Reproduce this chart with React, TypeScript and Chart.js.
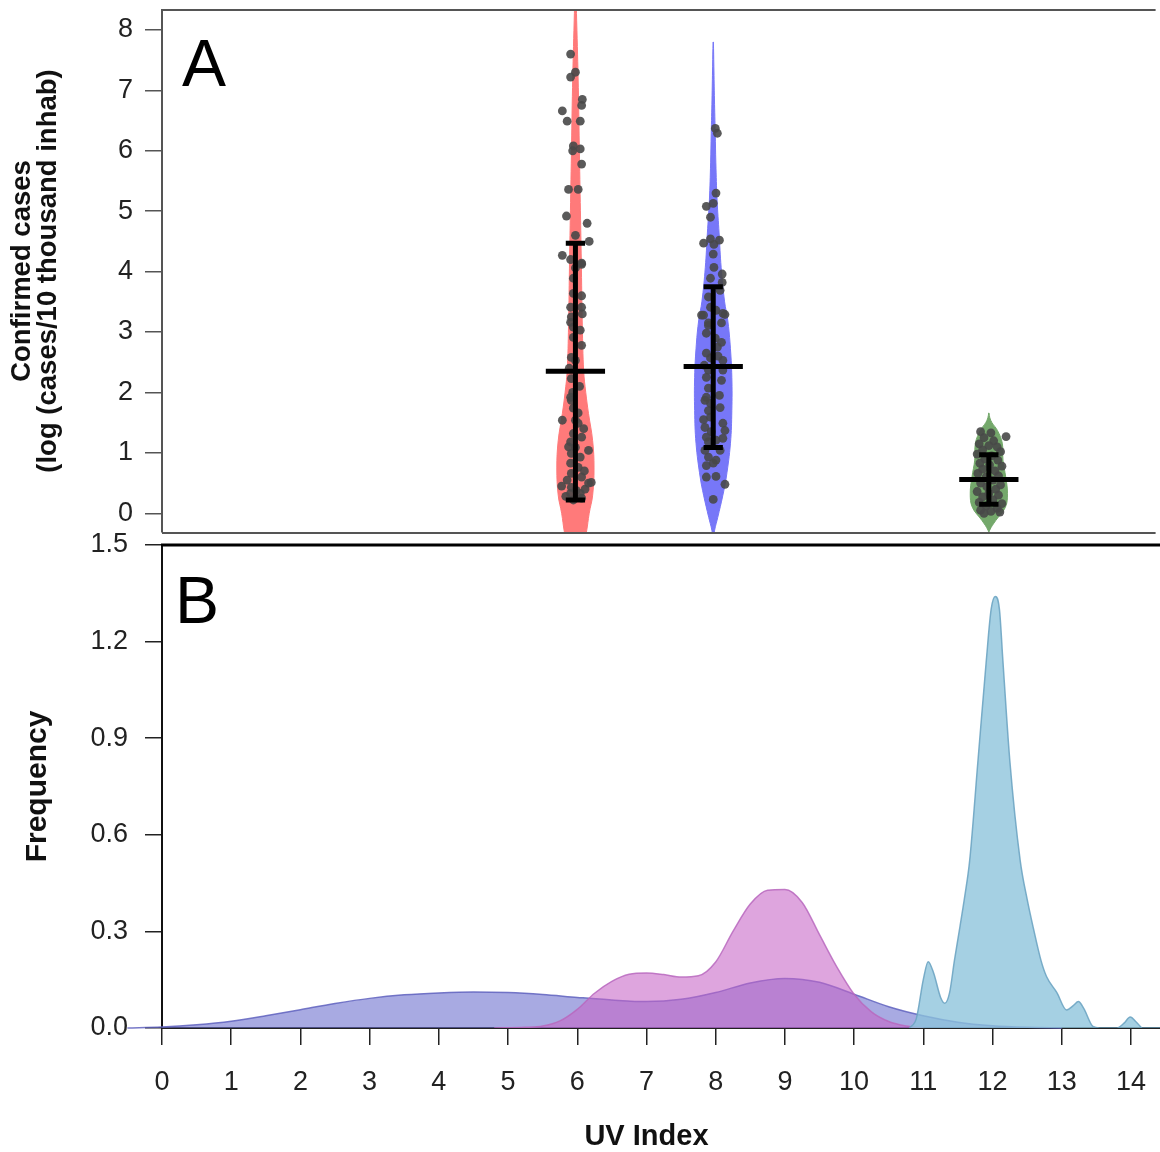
import React, { useEffect, useRef } from 'react';
import { Chart, registerables } from 'chart.js';

Chart.register(...registerables);

const FONT = '"Liberation Sans", Arial, Helvetica, sans-serif';

// ---------------- Shared axis ----------------
const xTicksB = [0, 1, 2, 3, 4, 5, 6, 7, 8, 9, 10, 11, 12, 13, 14];
const yTicksA = [0, 1, 2, 3, 4, 5, 6, 7, 8];
const yTicksB = [0, 0.3, 0.6, 0.9, 1.2, 1.5];

// ---------------- Panel A : violins ----------------
const groupCenters = [6, 8, 12];

const redViolinY = [-0.5, -0.31, 0.0, 0.3, 0.75, 1.2, 1.65, 2.0, 2.35, 3.1, 4.2, 4.85, 5.95, 7.05, 8.15, 8.6];
const redViolinW = [0.12, 0.16, 0.2, 0.25, 0.27, 0.25, 0.19, 0.15, 0.12, 0.1, 0.085, 0.075, 0.058, 0.042, 0.018, 0.005];

const blueViolinY = [-0.45, -0.28, -0.07, 0.3, 0.6, 1.16, 1.7, 2.25, 2.8, 3.2, 3.5, 4.07, 4.64, 5.18, 5.8, 6.29, 6.84, 7.4, 7.8];
const blueViolinW = [0.0, 0.02, 0.065, 0.14, 0.19, 0.25, 0.27, 0.27, 0.245, 0.21, 0.165, 0.115, 0.085, 0.056, 0.038, 0.029, 0.018, 0.009, 0.002];

const greenViolinY = [-0.36, -0.28, -0.12, 0.1, 0.33, 0.6, 0.88, 1.16, 1.37, 1.5, 1.58, 1.66];
const greenViolinW = [0.0, 0.012, 0.1, 0.24, 0.27, 0.245, 0.205, 0.195, 0.125, 0.045, 0.014, 0.002];

// jittered observations (offset from group centre, value)
const redPtsDx = [-0.07, 0, -0.07, 0.1, 0.09, -0.19, -0.12, 0.07, -0.03, -0.04, 0.07, 0.09, -0.1, 0.04, -0.13, 0.17, 0, 0.2, -0.19, -0.07, 0.09, 0, 0.09, -0.03, -0.03, 0.09, -0.07, 0.09, -0.06, -0.07, -0.03, 0.07, -0.03, 0.09, -0.06, 0, -0.06, -0.07, -0.06, -0.03, 0.04, -0.19, 0, 0.04, -0.03, 0.09, -0.07, 0, 0.19, -0.06, 0.07, -0.07, 0.04, -0.06, 0.09, 0.19, 0.23, -0.06, 0.01, -0.07, 0.07, 0.09, -0.03, 0.12, -0.1, 0.13, -0.12, 0.14, -0.14, 0.06, -0.09, 0.1, -0.04, -0.2];
const redPtsY = [7.6, 7.3, 7.22, 6.85, 6.75, 6.66, 6.49, 6.49, 6.08, 6.0, 6.03, 5.78, 5.36, 5.36, 4.92, 4.8, 4.6, 4.5, 4.27, 4.2, 4.14, 4.06, 4.12, 3.89, 3.64, 3.6, 3.41, 3.41, 3.25, 3.16, 3.08, 3.03, 2.91, 2.78, 2.58, 2.53, 2.23, 1.92, 1.87, 1.74, 1.66, 1.54, 1.54, 1.49, 1.32, 1.26, 1.18, 1.09, 1.04, 0.99, 0.93, 0.83, 0.76, 0.66, 0.6, 0.5, 0.51, 0.43, 0.38, 0.33, 0.33, 0.25, 0.22, 1.4, 1.1, 0.7, 0.55, 0.4, 0.28, 2.1, 2.4, 3.3, 2.0, 0.45];

const bluePtsDx = [0.03, 0.06, 0.04, -0.1, 0, -0.04, -0.14, -0.04, 0.01, 0.09, 0, 0.01, -0.04, 0.13, 0.13, -0.07, 0.1, -0.04, -0.14, 0.04, 0.14, -0.07, -0.17, -0.07, 0.17, 0.12, -0.1, 0.12, -0.1, -0.04, 0.14, -0.07, 0.14, -0.1, 0.12, -0.07, -0.1, -0.12, -0.04, -0.07, -0.04, 0.14, -0.12, 0.17, -0.1, 0.14, -0.07, 0.04, -0.12, 0.1, -0.07, 0.04, 0, -0.1, -0.1, 0.04, 0.17, 0, 0.06, -0.13, 0.09, 0.03, -0.14, 0.1, -0.03, 0.07];
const bluePtsY = [6.37, 6.29, 5.3, 5.08, 5.13, 4.9, 4.47, 4.54, 4.45, 4.52, 4.29, 4.07, 3.89, 3.96, 3.82, 3.58, 3.69, 3.41, 3.28, 3.36, 3.31, 3.11, 3.28, 3.15, 3.29, 3.15, 2.98, 2.83, 2.65, 2.57, 2.53, 2.37, 2.37, 2.25, 2.2, 2.07, 1.92, 1.87, 1.82, 1.7, 1.59, 1.49, 1.42, 1.37, 1.26, 1.24, 1.18, 1.21, 1.04, 1.04, 0.93, 0.88, 0.83, 0.79, 0.6, 0.61, 0.48, 0.23, 2.75, 2.45, 1.95, 2.9, 1.55, 1.75, 1.35, 2.6];

const greenPtsDx = [-0.12, 0.03, 0.25, -0.07, 0.07, -0.14, 0, 0.12, -0.09, 0.17, -0.17, 0.04, -0.06, 0.13, -0.13, 0.01, 0.19, -0.09, 0.09, -0.16, 0.14, -0.04, 0.06, -0.12, 0.17, -0.03, 0.1, -0.17, 0, 0.14, -0.09, 0.06, -0.14, 0.19, -0.04, 0.12, -0.12, 0.03, 0.16, -0.07];
const greenPtsY = [1.35, 1.33, 1.27, 1.25, 1.2, 1.15, 1.12, 1.1, 1.05, 1.02, 0.98, 0.95, 0.9, 0.88, 0.83, 0.8, 0.78, 0.73, 0.7, 0.66, 0.62, 0.6, 0.55, 0.5, 0.47, 0.44, 0.4, 0.36, 0.33, 0.3, 0.27, 0.22, 0.18, 0.16, 0.12, 0.08, 0.05, 0.03, 0.02, 0.0];

// summary statistics per group (red, blue, green)
const meanVals = [2.35, 2.43, 0.56];
const lowerVals = [0.22, 1.09, 0.15];
const upperVals = [4.47, 3.75, 0.97];

// ---------------- Panel B : densities ----------------
const blueDensX = [-0.5, 0, 0.5, 1, 1.5, 2, 2.5, 3, 3.5, 4, 4.5, 5, 5.5, 6, 6.5, 7, 7.5, 8, 8.5, 9, 9.5, 10, 10.5, 11, 11.5, 12, 12.5, 13];
const blueDensY = [0, 0.003, 0.01, 0.021, 0.038, 0.057, 0.076, 0.092, 0.103, 0.109, 0.112, 0.11, 0.104, 0.095, 0.087, 0.082, 0.089, 0.11, 0.14, 0.154, 0.142, 0.105, 0.066, 0.038, 0.018, 0.007, 0.002, 0];

const pinkDensX = [4.8, 5.25, 5.5, 5.75, 6.0, 6.25, 6.5, 6.75, 7.0, 7.25, 7.5, 7.75, 8.0, 8.25, 8.5, 8.75, 9.0, 9.25, 9.5, 9.75, 10.0, 10.25, 10.5, 10.75, 11.0];
const pinkDensY = [0, 0.002, 0.006, 0.022, 0.058, 0.108, 0.145, 0.167, 0.171, 0.166, 0.158, 0.162, 0.205, 0.3, 0.385, 0.428, 0.43, 0.39, 0.29, 0.19, 0.105, 0.05, 0.02, 0.006, 0];

const skyDensX = [10.8, 10.9, 11.0, 11.07, 11.15, 11.25, 11.31, 11.38, 11.45, 11.53, 11.6, 11.67, 11.79, 11.91, 11.98, 12.04, 12.1, 12.15, 12.25, 12.4, 12.5, 12.59, 12.7, 12.78, 12.93, 13.07, 13.17, 13.24, 13.32, 13.45, 13.55, 13.8, 13.9, 13.99, 14.08, 14.17, 14.42];
const skyDensY = [0, 0.03, 0.15, 0.206, 0.17, 0.095, 0.077, 0.11, 0.21, 0.315, 0.41, 0.52, 0.83, 1.14, 1.3, 1.34, 1.3, 1.14, 0.83, 0.52, 0.4, 0.31, 0.21, 0.16, 0.11, 0.056, 0.07, 0.082, 0.06, 0.005, 0, 0, 0.015, 0.034, 0.018, 0, 0];

// ---------------- helpers ----------------
const X_MAX = 14.42;
const CAP_W = 0.14;
const MEAN_W = 0.43;

const zip = (xs: number[], ys: number[]) => xs.map((x, i) => ({ x, y: ys[i] }));
const violinPath = (c: number, ys: number[], ws: number[]) => [
  ...ys.map((y, i) => ({ x: c + ws[i], y })),
  ...ys.map((y, i) => ({ x: c - ws[i], y })).reverse(),
];
const jitter = (c: number, dx: number[], ys: number[]) => dx.map((d, i) => ({ x: c + d, y: ys[i] }));
const errorPath = (c: number, lo: number, hi: number, mean: number) => [
  { x: c, y: lo }, { x: c, y: hi }, { x: c, y: null },
  { x: c - CAP_W, y: hi }, { x: c + CAP_W, y: hi }, { x: c, y: null },
  { x: c - CAP_W, y: lo }, { x: c + CAP_W, y: lo }, { x: c, y: null },
  { x: c - MEAN_W, y: mean }, { x: c + MEAN_W, y: mean },
];

const violinDs = (data: any[], color: string) => ({
  data, backgroundColor: color, borderColor: color, borderWidth: 1,
  fill: 'shape', pointRadius: 0, tension: 0.4, order: 3,
});
const pointsDs = (data: any[]) => ({
  data, showLine: false, pointRadius: 4.4, pointBackgroundColor: 'rgba(72,72,72,0.9)',
  pointBorderWidth: 0, pointBorderColor: 'rgba(0,0,0,0)', order: 2,
});
const errDs = (data: any[]) => ({
  data, borderColor: '#000', borderWidth: 5, pointRadius: 0, fill: false, tension: 0,
  borderCapStyle: 'butt', spanGaps: false, order: 1,
});
const densDs = (data: any[], fillC: string, lineC: string, order: number, clip: any) => ({
  data, backgroundColor: fillC, borderColor: lineC, borderWidth: 1.5, fill: 'origin',
  pointRadius: 0, cubicInterpolationMode: 'monotone', order, clip,
});

const decorA = {
  id: 'decorA',
  afterDraw(chart: any) {
    const { ctx, chartArea } = chart;
    ctx.save();
    ctx.strokeStyle = '#555';
    ctx.lineWidth = 2;
    ctx.beginPath();
    ctx.moveTo(chartArea.left, chartArea.top);
    ctx.lineTo(chartArea.right, chartArea.top);
    ctx.moveTo(chartArea.left, chartArea.bottom + 1);
    ctx.lineTo(chartArea.right, chartArea.bottom + 1);
    ctx.stroke();
    ctx.fillStyle = '#000';
    ctx.font = `66px ${FONT}`;
    ctx.textBaseline = 'alphabetic';
    ctx.textAlign = 'left';
    ctx.fillText('A', chartArea.left + 20, chartArea.top + 76);
    ctx.restore();
  },
};

const decorB = {
  id: 'decorB',
  afterDraw(chart: any) {
    const { ctx, chartArea } = chart;
    ctx.save();
    ctx.strokeStyle = '#000';
    ctx.lineWidth = 3;
    ctx.beginPath();
    ctx.moveTo(chartArea.left - 1, chartArea.top);
    ctx.lineTo(chartArea.right, chartArea.top);
    ctx.stroke();
    ctx.fillStyle = '#000';
    ctx.font = `66px ${FONT}`;
    ctx.textBaseline = 'alphabetic';
    ctx.textAlign = 'left';
    ctx.fillText('B', chartArea.left + 13, chartArea.top + 78);
    ctx.fillStyle = '#111';
    ctx.font = `bold 29px ${FONT}`;
    ctx.textAlign = 'center';
    ctx.textBaseline = 'middle';
    ctx.fillText('UV Index', chart.scales.x.getPixelForValue(7), chartArea.bottom + 109);
    ctx.restore();
  },
};

const tickFont = { family: FONT, size: 27 };

export default function App() {
  const refA = useRef<HTMLCanvasElement>(null);
  const refB = useRef<HTMLCanvasElement>(null);

  useEffect(() => {
    const chartA = new Chart(refA.current as HTMLCanvasElement, {
      type: 'line',
      data: {
        datasets: [
          violinDs(violinPath(groupCenters[0], redViolinY, redViolinW), '#FF7A7A'),
          violinDs(violinPath(groupCenters[1], blueViolinY, blueViolinW), '#7777F8'),
          violinDs(violinPath(groupCenters[2], greenViolinY, greenViolinW), '#74A86B'),
          pointsDs(jitter(groupCenters[0], redPtsDx, redPtsY)),
          pointsDs(jitter(groupCenters[1], bluePtsDx, bluePtsY)),
          pointsDs(jitter(groupCenters[2], greenPtsDx, greenPtsY)),
          ...groupCenters.map((c, i) => errDs(errorPath(c, lowerVals[i], upperVals[i], meanVals[i]))),
        ] as any,
      },
      options: {
        responsive: false,
        animation: false,
        events: [],
        layout: { padding: { top: 10, bottom: 13, left: 0, right: 0 } },
        plugins: { legend: { display: false }, tooltip: { enabled: false } },
        scales: {
          x: {
            type: 'linear', min: 0, max: X_MAX, display: false,
            afterFit: (s: any) => { s.paddingLeft = 0; s.paddingRight = 0; },
          },
          y: {
            type: 'linear', min: -0.31, max: 8.33,
            afterBuildTicks: (s: any) => { s.ticks = yTicksA.map((v) => ({ value: v })); },
            afterFit: (s: any) => { s.width = 162; s.paddingTop = 0; s.paddingBottom = 0; },
            ticks: { font: tickFont, color: '#222', padding: 12, callback: (v: any) => String(v) },
            grid: { drawOnChartArea: false, drawTicks: true, tickLength: 17, color: '#555', tickColor: '#555', lineWidth: 1.5, tickWidth: 1.5 },
            border: { display: true, color: '#555', width: 2 },
            title: {
              display: true,
              text: ['Confirmed cases', '(log (cases/10 thousand inhab)'],
              font: { family: FONT, size: 27.5, weight: 'bold', lineHeight: 0.95 },
              color: '#111',
              padding: { top: 9, bottom: 0 },
            },
          },
        },
      } as any,
      plugins: [decorA],
    });

    const chartB = new Chart(refB.current as HTMLCanvasElement, {
      type: 'line',
      data: {
        datasets: [
          densDs(zip(blueDensX, blueDensY), 'rgba(105,108,205,0.58)', 'rgba(95,98,190,0.85)', 3, false),
          densDs(zip(pinkDensX, pinkDensY), 'rgba(198,100,198,0.58)', 'rgba(185,105,190,0.85)', 2, undefined),
          densDs(zip(skyDensX, skyDensY), 'rgba(140,195,219,0.78)', 'rgba(110,165,195,0.9)', 1, undefined),
        ] as any,
      },
      options: {
        responsive: false,
        animation: false,
        events: [],
        layout: { padding: { top: 25, bottom: 0, left: 0, right: 0 } },
        plugins: { legend: { display: false }, tooltip: { enabled: false } },
        scales: {
          x: {
            type: 'linear', min: 0, max: X_MAX,
            afterBuildTicks: (s: any) => { s.ticks = xTicksB.map((v) => ({ value: v })); },
            afterFit: (s: any) => { s.height = 124; s.paddingLeft = 0; s.paddingRight = 0; },
            ticks: { font: tickFont, color: '#222', padding: 21, maxRotation: 0, autoSkip: false, callback: (v: any) => String(v) },
            grid: { drawOnChartArea: false, drawTicks: true, tickLength: 17, color: '#222', tickColor: '#222', lineWidth: 1.5, tickWidth: 1.5 },
            border: { display: true, color: '#222', width: 2 },
          },
          y: {
            type: 'linear', min: 0, max: 1.5,
            afterBuildTicks: (s: any) => { s.ticks = yTicksB.map((v) => ({ value: v })); },
            afterFit: (s: any) => { s.width = 162; s.paddingTop = 0; s.paddingBottom = 0; },
            ticks: { font: tickFont, color: '#222', padding: 17, callback: (v: any) => Number(v).toFixed(1) },
            grid: { drawOnChartArea: false, drawTicks: true, tickLength: 17, color: '#222', tickColor: '#222', lineWidth: 1.5, tickWidth: 1.5 },
            border: { display: true, color: '#111', width: 2 },
            title: {
              display: true,
              text: 'Frequency',
              font: { family: FONT, size: 30, weight: 'bold', lineHeight: 1.2 },
              color: '#111',
              padding: { top: 20, bottom: 0 },
            },
          },
        },
      } as any,
      plugins: [decorB],
    });

    return () => {
      chartA.destroy();
      chartB.destroy();
    };
  }, []);

  return (
    <div style={{ position: 'absolute', left: 0, top: 0, width: 1160, height: 1152, overflow: 'hidden', background: '#fff' }}>
      <canvas ref={refA} width={1160} height={545} style={{ position: 'absolute', left: 0, top: 0, width: 1160, height: 545 }} />
      <canvas ref={refB} width={1160} height={632} style={{ position: 'absolute', left: 0, top: 520, width: 1160, height: 632 }} />
    </div>
  );
}
